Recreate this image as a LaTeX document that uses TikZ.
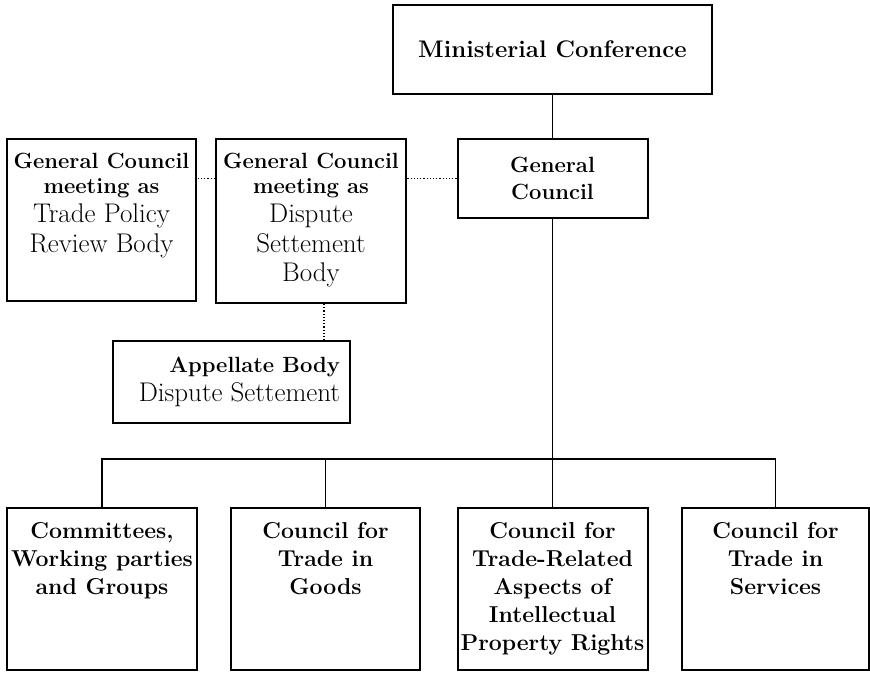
\documentclass[tikz,border=0pt]{standalone}
\usepackage{tikz}

% Type sizes used in the chart
\newcommand{\hd}{\fontsize{22}{25}\selectfont\bfseries}
\newcommand{\bhd}{\fontsize{23}{28}\selectfont\bfseries}
\newcommand{\tx}{\fontsize{27}{29.5}\selectfont\mdseries}

\begin{document}
\begin{tikzpicture}[x=1pt, y=-1pt,
  unit/.style={draw, line width=2pt, inner sep=0pt},
  wire/.style={line width=1.5pt},
  link/.style={line width=1.2pt, dotted}]
\useasboundingbox (0,0) rectangle (870,672);

% Top level
\node[unit] (mc) at (552.5,49.5) {\parbox[c][89pt][c]{319pt}{\centering\fontsize{24}{27}\selectfont\bfseries Ministerial Conference}};
\node[unit] (gc) at (552.5,178.5) {\parbox[c][79pt][c]{190pt}{\centering\fontsize{22}{27}\selectfont\bfseries General\par Council}};

% General Council in its other roles
\node[unit] (tprb) at (101.5,220) {\parbox[c][162pt][t]{189pt}{\centering\vspace*{13.7pt}\hd General Council\par meeting as\par\tx Trade Policy\par Review Body\par}};
\node[unit] (dsb) at (311,221) {\parbox[c][164pt][t]{190pt}{\centering\vspace*{13.7pt}\hd General Council\par meeting as\par\tx Dispute\par Settement\par Body\par}};
\node[unit, inner xsep=10pt] (apb) at (231.5,382) {\parbox[c][82pt][c]{217pt}{\raggedleft\hd Appellate Body\par\tx Dispute Settement\par}};

% Councils and committees
\node[unit] (cwg) at (102,589) {\parbox[c][162pt][t]{190pt}{\centering\vspace*{14pt}\bhd Committees,\par Working parties\par and Groups\par}};
\node[unit] (ctg) at (325.5,589) {\parbox[c][162pt][t]{189pt}{\centering\vspace*{14pt}\bhd Council for\par Trade in\par Goods\par}};
\node[unit] (trips) at (552.5,589) {\parbox[c][162pt][t]{190pt}{\centering\vspace*{14pt}\bhd Council for\par Trade-Related\par Aspects of\par Intellectual\par Property Rights\par}};
\node[unit] (cts) at (775.5,589) {\parbox[c][162pt][t]{187pt}{\centering\vspace*{14pt}\bhd Council for\par Trade in\par Services\par}};

% Solid lines
\coordinate (bus) at (552.5,459);
\draw[wire] (mc) -- (gc);
\draw[wire] (gc) -- (bus);
\draw[wire] (cwg.north) |- (bus) -| (cts.north);
\draw[wire] (ctg.north) -- (ctg.north |- bus);
\draw[wire] (trips.north) -- (bus);

% Dotted lines
\draw[link] (gc.west) -- (dsb.east |- gc.west);
\draw[link] (dsb.west |- gc.west) -- (tprb.east |- gc.west);
\draw[link] ([xshift=13pt]dsb.south) -- ([xshift=13pt]dsb.south |- apb.north);

\end{tikzpicture}
\end{document}
